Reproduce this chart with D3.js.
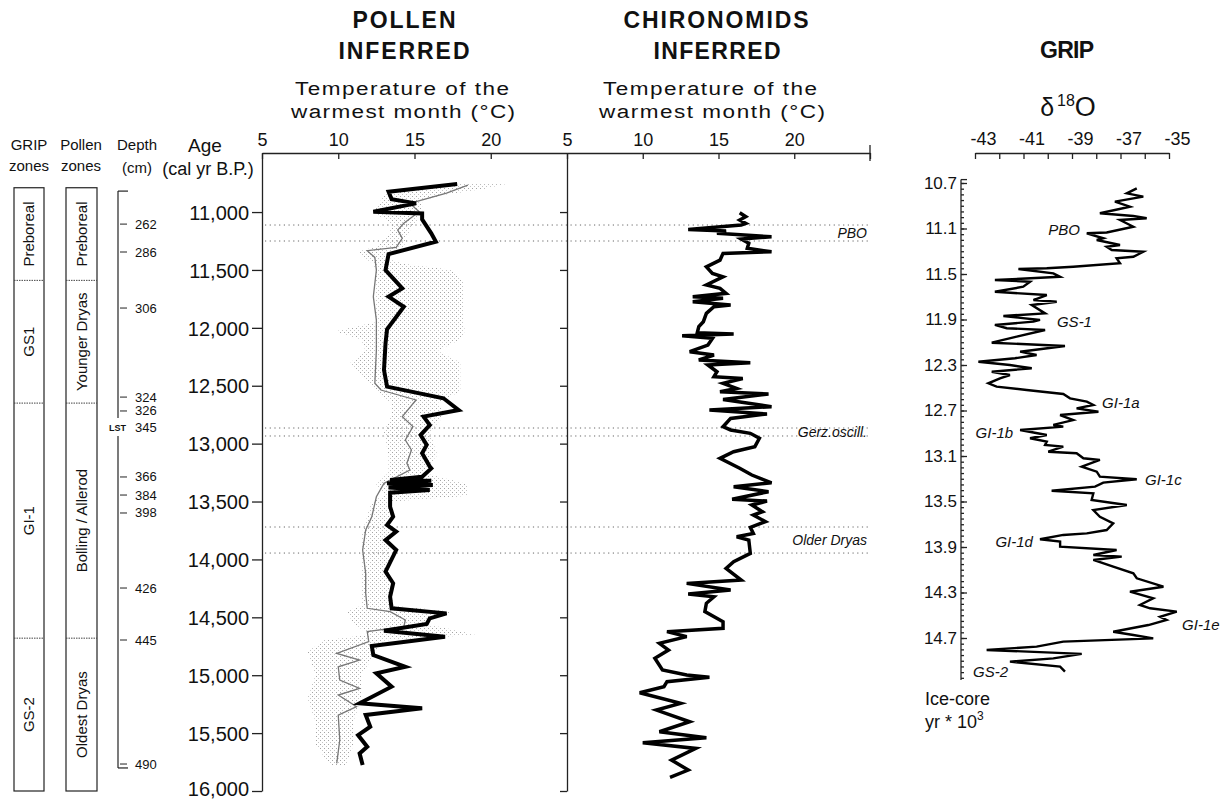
<!DOCTYPE html>
<html>
<head>
<meta charset="utf-8">
<script src="https://cdn.jsdelivr.net/npm/d3@7"></script>
<style>
  body { margin: 0; background: #fff; }
  svg { display: block; font-family: "Liberation Sans", Arial, Helvetica, sans-serif; }
</style>
</head>
<body>
<svg id="chart" width="1226" height="800"></svg>
<script>
// ---------------- data ----------------
const ageTicks = [11000, 11500, 12000, 12500, 13000, 13500, 14000, 14500, 15000, 15500, 16000];
const tempTicks = [5, 10, 15, 20];
const gripValueTicks = [-43, -42, -41, -40, -39, -38, -37, -36, -35];
const gripValueLabels = [-43, -41, -39, -37, -35];
const gripAgeTicks = [10.7, 11.1, 11.5, 11.9, 12.3, 12.7, 13.1, 13.5, 13.9, 14.3, 14.7];

// zone columns (cal yr B.P. boundaries)
const zoneBounds = [10790, 11590, 12650, 14680, 16000];
const gripZones = ["Preboreal", "GS1", "GI-1", "GS-2"];
const pollenZones = ["Preboreal", "Younger Dryas", "Bolling / Allerod", "Oldest Dryas"];

// core depths (cm) and their ages
const depthValues = [262, 286, 306, 324, 326, 345, 366, 384, 398, 426, 445, 490];
const depthAges = [11104, 11345, 11829, 12598, 12718, 12857, 13288, 13444, 13599, 14247, 14696, 15767];
const depthExtent = [10819, 15801];

// pollen-inferred July temperature (thick line)
const pollenAge = [10758, 10825, 10890, 10925, 10997, 11012, 11063, 11184, 11256, 11363, 11501, 11659, 11731, 11818, 12013, 12134, 12364, 12508, 12608, 12710, 12767, 12840, 12926, 13011, 13083, 13198, 13214, 13286, 13314, 13320, 13343, 13358, 13378, 13401, 13424, 13545, 13631, 13703, 13760, 13833, 13919, 14106, 14206, 14322, 14422, 14466, 14509, 14558, 14616, 14668, 14748, 14826, 14927, 14984, 15099, 15243, 15286, 15344, 15445, 15517, 15618, 15675, 15776];
const pollenTemp = [17.8, 13.3, 13.5, 15.1, 12.3, 15.5, 15.5, 16.1, 16.4, 13.3, 13.1, 14.2, 13.3, 14.3, 13.2, 13.1, 13.0, 13.2, 16.9, 17.9, 15.6, 16.0, 15.4, 15.8, 15.5, 16.0, 16.1, 15.5, 13.4, 16.1, 13.2, 16.2, 13.3, 16.0, 13.4, 13.4, 13.6, 13.2, 13.8, 13.1, 13.8, 13.1, 13.6, 13.4, 13.5, 17.1, 16.0, 15.8, 13.0, 17.0, 12.2, 12.3, 14.4, 12.5, 13.5, 11.4, 15.5, 11.8, 12.1, 11.3, 11.9, 11.4, 11.6];

// second pollen reconstruction (thin grey line)
const pollenAltAge = [10767, 10837, 10925, 10997, 11097, 11155, 11227, 11305, 11334, 11392, 11501, 11731, 11933, 12192, 12479, 12537, 12623, 12767, 12853, 12969, 13055, 13170, 13228, 13343, 13459, 13631, 13746, 13919, 14120, 14293, 14422, 14451, 14523, 14581, 14624, 14710, 14811, 14869, 14927, 15042, 15113, 15171, 15272, 15344, 15560, 15761];
const pollenAltTemp = [18.5, 17.1, 14.7, 15.3, 14.3, 13.9, 14.2, 13.8, 11.9, 12.4, 12.5, 12.3, 12.5, 12.5, 12.4, 12.8, 15.1, 14.2, 14.9, 14.4, 14.8, 14.5, 14.7, 13.0, 12.5, 12.2, 11.8, 11.6, 11.8, 11.8, 11.9, 13.4, 14.4, 14.3, 11.9, 12.0, 9.9, 11.4, 10.0, 10.1, 11.4, 10.0, 11.2, 10.0, 10.1, 9.9];

// sample-specific error range of the pollen reconstruction (stippled)
const rangeAge = [10760, 10800, 10850, 10900, 11000, 11100, 11200, 11300, 11340, 11400, 11450, 11500, 11600, 11800, 11950, 12030, 12100, 12200, 12300, 12400, 12550, 12650, 12750, 12900, 13100, 13250, 13350, 13450, 13500, 13800, 14100, 14400, 14450, 14550, 14650, 14700, 14800, 15000, 15200, 15400, 15600, 15780];
const rangeLow = [17.5, 15.0, 13.0, 12.8, 12.3, 13.5, 13.3, 12.5, 11.3, 11.8, 12.3, 12.4, 12.5, 12.5, 12.5, 9.8, 11.5, 11.8, 10.8, 11.5, 12.5, 13.5, 13.5, 13.0, 13.3, 13.3, 12.5, 13.0, 12.2, 11.5, 11.5, 11.5, 10.5, 11.0, 12.0, 9.0, 8.0, 8.5, 8.0, 8.5, 8.5, 9.5];
const rangeHigh = [21.0, 19.5, 17.0, 15.5, 15.5, 15.0, 14.5, 14.3, 13.5, 13.0, 14.5, 17.5, 18.2, 18.2, 18.2, 18.3, 18.0, 16.5, 18.0, 18.0, 18.0, 16.5, 17.0, 16.0, 16.5, 15.5, 18.5, 18.5, 13.5, 13.5, 13.3, 13.6, 17.5, 15.5, 19.0, 13.0, 12.5, 11.5, 11.5, 11.0, 11.0, 10.5];

// chironomid-inferred July temperature
const chiroAge = [11006, 11040, 11069, 11098, 11112, 11150, 11164, 11184, 11213, 11233, 11270, 11313, 11343, 11357, 11415, 11473, 11530, 11559, 11630, 11659, 11702, 11731, 11745, 11774, 11803, 11818, 11875, 11947, 11990, 12042, 12054, 12068, 12091, 12149, 12206, 12235, 12278, 12301, 12321, 12379, 12422, 12437, 12480, 12523, 12552, 12572, 12618, 12681, 12710, 12744, 12782, 12854, 12882, 12911, 12954, 13026, 13070, 13127, 13213, 13271, 13338, 13372, 13415, 13481, 13496, 13530, 13588, 13617, 13674, 13723, 13775, 13804, 13833, 13948, 14020, 14077, 14178, 14207, 14264, 14299, 14322, 14379, 14451, 14538, 14595, 14624, 14667, 14725, 14783, 14854, 14955, 14998, 15018, 15056, 15099, 15151, 15243, 15301, 15402, 15488, 15540, 15583, 15632, 15733, 15819, 15882];
const chiroTemp = [16.4, 16.8, 16.4, 16.8, 16.5, 13.0, 15.5, 14.9, 18.5, 16.5, 17.0, 16.9, 18.5, 15.3, 15.1, 14.2, 14.6, 15.3, 14.2, 15.1, 15.5, 13.3, 15.3, 13.3, 15.8, 14.7, 14.2, 14.0, 13.7, 13.6, 16.0, 12.6, 14.6, 14.3, 13.1, 14.7, 13.7, 17.1, 14.3, 14.9, 14.7, 16.6, 15.3, 16.2, 15.1, 18.3, 15.3, 18.5, 14.4, 18.2, 15.8, 15.3, 15.8, 17.1, 17.7, 17.4, 16.0, 15.1, 16.4, 17.2, 18.5, 16.0, 18.3, 15.9, 18.2, 17.2, 17.9, 17.3, 18.1, 17.1, 17.3, 16.2, 17.0, 17.1, 16.0, 15.5, 16.5, 12.9, 15.8, 13.0, 14.7, 14.2, 14.1, 15.3, 15.3, 11.6, 12.9, 11.1, 11.7, 10.8, 11.3, 12.9, 14.4, 11.6, 11.4, 9.8, 12.5, 10.9, 13.1, 11.1, 14.2, 10.0, 13.5, 11.9, 13.0, 11.8];

// GRIP ice core oxygen isotopes (ice-core age, kyr)
const gripAge = [10.747, 10.791, 10.82, 10.864, 10.908, 10.966, 10.99, 11.01, 11.025, 11.084, 11.135, 11.142, 11.186, 11.201, 11.245, 11.26, 11.289, 11.304, 11.348, 11.362, 11.406, 11.436, 11.45, 11.456, 11.494, 11.524, 11.553, 11.568, 11.612, 11.656, 11.685, 11.729, 11.744, 11.773, 11.846, 11.869, 11.904, 11.919, 11.948, 11.977, 11.992, 12.051, 12.104, 12.133, 12.183, 12.212, 12.241, 12.271, 12.3, 12.329, 12.359, 12.388, 12.417, 12.461, 12.49, 12.52, 12.555, 12.593, 12.622, 12.652, 12.681, 12.711, 12.74, 12.784, 12.827, 12.842, 12.871, 12.915, 12.944, 12.974, 13.003, 13.018, 13.062, 13.076, 13.12, 13.135, 13.194, 13.238, 13.282, 13.305, 13.334, 13.369, 13.405, 13.428, 13.487, 13.531, 13.575, 13.634, 13.692, 13.751, 13.78, 13.794, 13.832, 13.853, 13.897, 13.926, 13.97, 13.985, 14.014, 14.073, 14.131, 14.175, 14.249, 14.293, 14.351, 14.41, 14.439, 14.468, 14.513, 14.542, 14.586, 14.645, 14.674, 14.703, 14.732, 14.776, 14.805, 14.84, 14.879, 14.908, 14.952, 14.996];
const gripD18O = [-36.33, -36.74, -36.06, -37.23, -36.61, -37.85, -36.47, -35.92, -37.02, -36.47, -37.57, -38.39, -37.71, -37.98, -37.02, -37.57, -37.36, -36.06, -36.47, -37.16, -37.02, -38.95, -40.04, -41.21, -39.77, -39.49, -42.18, -40.73, -41.01, -42.18, -40.04, -40.59, -39.63, -40.66, -40.11, -41.83, -40.32, -40.59, -42.18, -41.69, -40.11, -41.28, -42.31, -39.29, -41.14, -40.46, -41.35, -42.86, -41.56, -40.66, -42.31, -41.56, -41.97, -42.45, -42.11, -40.87, -39.36, -39.08, -38.39, -38.12, -38.81, -37.91, -39.49, -38.95, -39.77, -39.36, -41.14, -40.04, -40.73, -40.04, -40.11, -39.36, -39.98, -38.81, -38.53, -37.85, -38.6, -37.98, -37.85, -36.33, -37.71, -38.05, -39.84, -38.12, -38.19, -36.74, -38.12, -37.85, -37.3, -37.57, -38.39, -39.36, -40.32, -39.49, -39.49, -37.16, -38.12, -36.95, -38.12, -37.3, -36.47, -36.33, -35.23, -36.61, -35.65, -36.2, -35.78, -34.68, -35.37, -35.1, -35.85, -37.3, -36.47, -35.65, -39.36, -40.46, -42.52, -38.6, -39.77, -41.56, -39.49, -39.29];

// named oscillations across the lake records
const eventNames = ["PBO", "Gerz.oscill.", "Older Dryas"];
const eventTop = [11112, 12865, 13720];
const eventBottom = [11250, 12934, 13945];

// GRIP event stratigraphy labels: name, age (kyr), δ18O anchor, text anchor
const gripEventNames = ["PBO", "GS-1", "GI-1a", "GI-1b", "GI-1c", "GI-1d", "GI-1e", "GS-2"];
const gripEventAge = [11.113, 11.922, 12.634, 12.898, 13.311, 13.856, 14.586, 15.0];
const gripEventValue = [-38.67, -39.62, -37.76, -41.43, -35.99, -40.61, -34.46, -43.08];
const gripEventAnchor = ["end", "start", "start", "end", "start", "end", "start", "start"];

// ---------------- scales ----------------
const svg = d3.select("#chart");
const yAge = d3.scaleLinear().domain([10490, 16000]).range([153, 791]);
const xPollen = d3.scaleLinear().domain([5, 25]).range([262, 567]);
const xChiro = d3.scaleLinear().domain([5, 25]).range([567, 870]);
const xGrip = d3.scaleLinear().domain([-43, -35]).range([975, 1169]);
const yGrip = d3.scaleLinear().domain([10.7, 14.7]).range([183, 638]);

// stipple texture for the error envelope
const defs = svg.append("defs");
const pat = defs.append("pattern").attr("id", "stipple")
  .attr("width", 4).attr("height", 4).attr("patternUnits", "userSpaceOnUse");
pat.append("rect").attr("x", 0).attr("y", 0).attr("width", 1).attr("height", 1).attr("fill", "#a4a4a4");
pat.append("rect").attr("x", 2).attr("y", 2).attr("width", 1).attr("height", 1).attr("fill", "#c4c4c4");

// ---------------- text helpers ----------------
function textLine(str, x, y, size, opts = {}) {
  const t = svg.append("text").attr("x", x).attr("y", y)
    .attr("text-anchor", opts.anchor || "middle")
    .attr("font-size", size).attr("fill", "#111");
  if (opts.bold) t.attr("font-weight", "bold");
  if (opts.italic) t.attr("font-style", "italic");
  if (opts.len) t.attr("textLength", opts.len).attr("lengthAdjust", "spacing");
  t.text(str);
  return t;
}
// horizontally widened heading text
function wideLine(str, cx, y, size, width, sx) {
  svg.append("text").attr("transform", `translate(${cx},${y}) scale(${sx},1)`)
    .attr("text-anchor", "middle").attr("font-size", size).attr("fill", "#111")
    .attr("textLength", width / sx).attr("lengthAdjust", "spacing").text(str);
}

// ---------------- titles ----------------
textLine("POLLEN", 404, 28, 23, { bold: true, len: 103 });
textLine("INFERRED", 404, 59, 23, { bold: true, len: 131 });
textLine("CHIRONOMIDS", 716, 28, 23, { bold: true, len: 185 });
textLine("INFERRED", 717, 59, 23, { bold: true, len: 127 });
textLine("GRIP", 1067, 58, 23, { bold: true, len: 54 });

wideLine("Temperature of the", 402, 95, 18, 214, 1.25);
wideLine("warmest month (°C)", 403, 118, 18, 224, 1.25);
wideLine("Temperature of the", 710, 95, 18, 214, 1.25);
wideLine("warmest month (°C)", 712, 118, 18, 226, 1.25);

// δ18O heading
const dT = svg.append("text").attr("x", 1068).attr("y", 116).attr("text-anchor", "middle")
  .attr("font-size", 25).attr("fill", "#111");
dT.append("tspan").text("δ");
dT.append("tspan").attr("font-size", 16).attr("dy", -10).attr("dx", 3).text("18");
dT.append("tspan").attr("dy", 10).attr("font-size", 27).text("O");

// left column headings
textLine("GRIP", 29, 150, 15);
textLine("zones", 29, 171, 15);
textLine("Pollen", 81, 150, 15);
textLine("zones", 81, 171, 15);
textLine("Depth", 137, 150, 15);
textLine("(cm)", 137, 173, 15);
textLine("Age", 205, 152, 19);
textLine("(cal yr B.P.)", 208, 175, 18);

// ---------------- zone columns ----------------
function zoneColumn(x, w, names) {
  const g = svg.append("g");
  g.append("rect").attr("x", x).attr("y", yAge(zoneBounds[0]))
    .attr("width", w).attr("height", yAge(zoneBounds[zoneBounds.length - 1]) - yAge(zoneBounds[0]))
    .attr("fill", "none").attr("stroke", "#222").attr("stroke-width", 1.2);
  zoneBounds.slice(1, -1).forEach(b => {
    g.append("line").attr("x1", x).attr("x2", x + w).attr("y1", yAge(b)).attr("y2", yAge(b))
      .attr("stroke", "#444").attr("stroke-width", 1).attr("stroke-dasharray", "1.5,1");
  });
  names.forEach((n, i) => {
    const cy = (yAge(zoneBounds[i]) + yAge(zoneBounds[i + 1])) / 2;
    const cx = x + w / 2;
    g.append("text").attr("transform", `translate(${cx + 5},${cy}) rotate(-90)`)
      .attr("text-anchor", "middle").attr("font-size", 15).attr("fill", "#111").text(n);
  });
}
zoneColumn(14, 30, gripZones);
zoneColumn(66, 31, pollenZones);

// ---------------- depth scale ----------------
const depthX = 118;
const depthG = svg.append("g").attr("stroke", "#222").attr("stroke-width", 1.2);
const lstAge = depthAges[depthValues.indexOf(345)];
depthG.append("line").attr("x1", depthX).attr("x2", depthX)
  .attr("y1", yAge(depthExtent[0])).attr("y2", yAge(lstAge) - 9);
depthG.append("line").attr("x1", depthX).attr("x2", depthX)
  .attr("y1", yAge(lstAge) + 9).attr("y2", yAge(depthExtent[1]));
depthG.append("line").attr("x1", depthX).attr("x2", depthX + 10)
  .attr("y1", yAge(depthExtent[0])).attr("y2", yAge(depthExtent[0]));
depthG.append("line").attr("x1", depthX).attr("x2", depthX + 10)
  .attr("y1", yAge(depthExtent[1])).attr("y2", yAge(depthExtent[1]));
depthValues.forEach((d, i) => {
  const yy = yAge(depthAges[i]);
  if (d !== 345) {
    depthG.append("line").attr("x1", depthX + 2).attr("x2", depthX + 9)
      .attr("y1", yy).attr("y2", yy).attr("stroke-width", 1);
  }
  svg.append("text").attr("x", 135).attr("y", yy + 4.5).attr("font-size", 13)
    .attr("fill", "#111").text(d);
});
svg.append("text").attr("x", 126).attr("y", yAge(lstAge) + 4).attr("text-anchor", "end")
  .attr("font-size", 9).attr("font-weight", "bold").attr("fill", "#111").text("LST");

// ---------------- event lines ----------------
eventNames.forEach((n, i) => {
  [eventTop[i], eventBottom[i]].forEach(a => {
    svg.append("line").attr("x1", xPollen(5) + 3).attr("x2", xChiro(25))
      .attr("y1", yAge(a)).attr("y2", yAge(a))
      .attr("stroke", "#666").attr("stroke-width", 1).attr("stroke-dasharray", "1.2,3.5");
  });
  const mid = (yAge(eventTop[i]) + yAge(eventBottom[i])) / 2;
  textLine(n, xChiro(25) - 3, mid + 5, 14, { italic: true, anchor: "end" });
});

// ---------------- pollen panel ----------------
const rangeData = rangeAge.map((a, i) => ({ a, lo: rangeLow[i], hi: rangeHigh[i] }));
svg.append("path").datum(rangeData)
  .attr("d", d3.area().y(d => yAge(d.a)).x0(d => xPollen(d.lo)).x1(d => xPollen(d.hi)))
  .attr("fill", "url(#stipple)").attr("stroke", "none");

const altData = pollenAltAge.map((a, i) => ({ a, t: pollenAltTemp[i] }));
svg.append("path").datum(altData)
  .attr("d", d3.line().y(d => yAge(d.a)).x(d => xPollen(d.t)))
  .attr("fill", "none").attr("stroke", "#777").attr("stroke-width", 1.3);

const pollenData = pollenAge.map((a, i) => ({ a, t: pollenTemp[i] }));
svg.append("path").datum(pollenData)
  .attr("d", d3.line().y(d => yAge(d.a)).x(d => xPollen(d.t)))
  .attr("fill", "none").attr("stroke", "#000").attr("stroke-width", 4)
  .attr("stroke-linejoin", "miter").attr("stroke-miterlimit", 4);

// axes
function styleAxis(g) {
  g.selectAll("path, line").attr("stroke", "#222").attr("stroke-width", 1.3);
  g.selectAll("text").attr("fill", "#111").attr("font-family", null);
}

svg.append("g").attr("transform", `translate(0,${yAge(10490)})`)
  .call(d3.axisTop(xPollen).tickValues(tempTicks).tickSize(-6).tickSizeOuter(0).tickPadding(7))
  .call(styleAxis).call(g => g.selectAll("text").attr("font-size", 18));

svg.append("g").attr("transform", `translate(${xPollen(5)},0)`)
  .call(d3.axisLeft(yAge).tickValues(ageTicks).tickFormat(d3.format(",")).tickSize(10).tickSizeOuter(0).tickPadding(3))
  .call(styleAxis)
  .call(g => g.selectAll("text").attr("font-size", 20)
    .attr("dy", d => d === 16000 ? "0.2em" : "0.36em"));

// ---------------- chironomid panel ----------------
svg.append("g").attr("transform", `translate(0,${yAge(10490)})`)
  .call(d3.axisTop(xChiro).tickValues([5, 10, 15, 20, 25]).tickFormat(d => d === 25 ? "" : d)
    .tickSize(-6).tickSizeOuter(0).tickPadding(7))
  .call(styleAxis).call(g => g.selectAll("text").attr("font-size", 18));
svg.append("line").attr("x1", xChiro(25)).attr("x2", xChiro(25))
  .attr("y1", yAge(10490) - 8).attr("y2", yAge(10490) + 8)
  .attr("stroke", "#222").attr("stroke-width", 1.3);

svg.append("g").attr("transform", `translate(${xChiro(5)},0)`)
  .call(d3.axisLeft(yAge).tickValues(ageTicks).tickFormat("").tickSize(7).tickSizeOuter(0))
  .call(styleAxis);

const chiroData = chiroAge.map((a, i) => ({ a, t: chiroTemp[i] }));
svg.append("path").datum(chiroData)
  .attr("d", d3.line().y(d => yAge(d.a)).x(d => xChiro(d.t)))
  .attr("fill", "none").attr("stroke", "#000").attr("stroke-width", 3.5)
  .attr("stroke-linejoin", "miter").attr("stroke-miterlimit", 4);

// ---------------- GRIP panel ----------------
const gTop = svg.append("g").attr("transform", `translate(0,${yAge(10490)})`)
  .call(d3.axisTop(xGrip).tickValues(gripValueTicks)
    .tickFormat(d => gripValueLabels.includes(d) ? d : "")
    .tickSize(-6).tickSizeOuter(0).tickPadding(8))
  .call(styleAxis);
gTop.selectAll("text").attr("font-size", 18).attr("dx", 8);

const gripAxisX = xGrip(-43) - 14;
const gripMinor = d3.range(0, 88).map(i => 10.7 + i * 0.05);
svg.append("g").attr("transform", `translate(${gripAxisX},0)`)
  .call(d3.axisLeft(yGrip).tickValues(gripMinor).tickFormat("").tickSize(-3).tickSizeOuter(0))
  .call(styleAxis).call(g => g.select(".domain").remove());
const gLeft = svg.append("g").attr("transform", `translate(${gripAxisX},0)`)
  .call(d3.axisLeft(yGrip).tickValues(gripAgeTicks).tickFormat(d3.format(".1f"))
    .tickSize(-6).tickSizeOuter(0).tickPadding(4))
  .call(styleAxis);
gLeft.select(".domain").remove();
gLeft.selectAll("text").attr("font-size", 17);
svg.append("line").attr("x1", gripAxisX).attr("x2", gripAxisX)
  .attr("y1", yGrip(10.67)).attr("y2", yGrip(15.07)).attr("stroke", "#222").attr("stroke-width", 1.3);
svg.append("line").attr("x1", gripAxisX).attr("x2", gripAxisX + 6)
  .attr("y1", yGrip(10.67)).attr("y2", yGrip(10.67)).attr("stroke", "#222").attr("stroke-width", 1.3);

const gripData = gripAge.map((a, i) => ({ a, v: gripD18O[i] }));
svg.append("path").datum(gripData)
  .attr("d", d3.line().y(d => yGrip(d.a)).x(d => xGrip(d.v)))
  .attr("fill", "none").attr("stroke", "#000").attr("stroke-width", 2.4)
  .attr("stroke-linejoin", "miter").attr("stroke-miterlimit", 4);

gripEventNames.forEach((n, i) => {
  textLine(n, xGrip(gripEventValue[i]), yGrip(gripEventAge[i]) + 5, 15,
    { italic: true, anchor: gripEventAnchor[i] });
});

textLine("Ice-core", 925, 705, 18, { anchor: "start" });
const yrT = svg.append("text").attr("x", 925).attr("y", 728).attr("font-size", 18).attr("fill", "#111");
yrT.append("tspan").text("yr * 10");
yrT.append("tspan").attr("font-size", 12).attr("dy", -8).text("3");
</script>
</body>
</html>
